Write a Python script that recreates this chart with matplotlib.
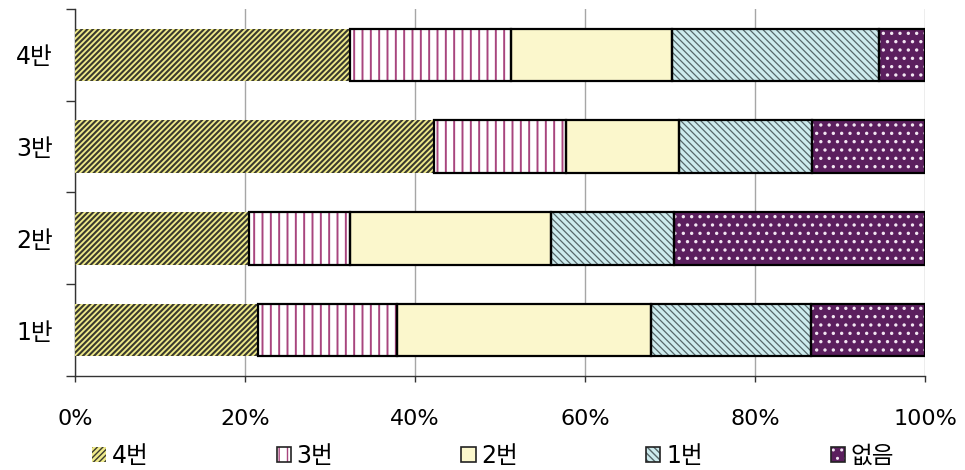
import matplotlib
matplotlib.use('Agg')
import matplotlib.pyplot as plt
import matplotlib.patches as mpatches
from matplotlib.legend_handler import HandlerTuple
import numpy as np

plt.rcParams['font.family'] = ['DejaVu Sans', 'Noto Sans CJK KR']

# Response share (%) per class, stacked left to right
CLASSES = ['1반', '2반', '3반', '4반']
SERIES = ['4번', '3번', '2번', '1번', '없음']
S4 = [21.5, 20.5, 42.2, 32.4]
S3 = [16.4, 11.9, 15.6, 18.9]
S2 = [29.8, 23.6, 13.3, 18.9]
S1 = [18.9, 14.5, 15.6, 24.4]
S0 = [13.4, 29.5, 13.3, 5.4]
XTICKS = [0, 20, 40, 60, 80, 100]

# face, hatch, hatch colour, hatch width, outline
STYLES = [
    ('#EFEA8A', '//////', '#3A3A2E', 1.5, 'none'),
    ('#FFFFFF', '||', '#A8457E', 1.4, 'black'),
    ('#FBF7CC', '', '#FBF7CC', 1.0, 'black'),
    ('#CDEBEE', '\\\\\\\\\\', '#56676A', 0.9, 'black'),
    ('#5B1F5E', '..', '#F2E6F2', 1.2, 'black'),
]

fig = plt.figure(figsize=(9.65, 4.7), dpi=100)
ax = fig.add_axes([0.0777, 0.2, 0.881, 0.781])

y = np.arange(len(CLASSES))
h = 0.57
left = np.zeros(len(CLASSES))
handles = []
for vals, name, (face, hatch, hcol, hlw, edge) in zip([S4, S3, S2, S1, S0], SERIES, STYLES):
    vals = np.array(vals)
    with plt.rc_context({'hatch.linewidth': hlw}):
        ax.barh(y, vals, height=h, left=left, color=face, hatch=hatch,
                edgecolor=hcol, linewidth=0, zorder=3)
        p1 = mpatches.Patch(facecolor=face, hatch=hatch, edgecolor=hcol, linewidth=0)
    if edge != 'none':
        ax.barh(y, vals, height=h, left=left, fill=False, edgecolor=edge,
                linewidth=1.6, zorder=4)
        p2 = mpatches.Patch(fill=False, edgecolor='#222222', linewidth=1.2)
        handles.append((p1, p2))
    else:
        handles.append((p1,))
    left += vals

ax.set_xlim(0, 100)
ax.set_ylim(-0.5, len(CLASSES) - 0.5)
ax.set_xticks(XTICKS)
ax.set_xticklabels([f'{v}%' for v in XTICKS])
ax.set_yticks(y)
ax.set_yticklabels(CLASSES)
ax.set_yticks(np.arange(-0.5, len(CLASSES)), minor=True)
ax.tick_params(axis='y', which='major', length=0, pad=16, labelsize=17)
ax.tick_params(axis='y', which='minor', length=6.5, width=1, color='#333333')
ax.tick_params(axis='x', length=4.5, width=1, color='#333333', pad=19.5, labelsize=16)
ax.xaxis.grid(True, color='#A6A6A6', linewidth=1, zorder=0)
ax.set_axisbelow(True)
for s in ['top', 'right']:
    ax.spines[s].set_visible(False)
for s in ['left', 'bottom']:
    ax.spines[s].set_color('#333333')
    ax.spines[s].set_linewidth(1)

fig.legend(handles, SERIES, loc='center', bbox_to_anchor=(0.511, 0.030), ncol=5,
           frameon=False, fontsize=17, handlelength=0.6, handleheight=0.6,
           handletextpad=0.25, columnspacing=5.42, borderpad=0,
           handler_map={tuple: HandlerTuple(ndivide=1, pad=0)})

fig.savefig('out.png', dpi=100)
